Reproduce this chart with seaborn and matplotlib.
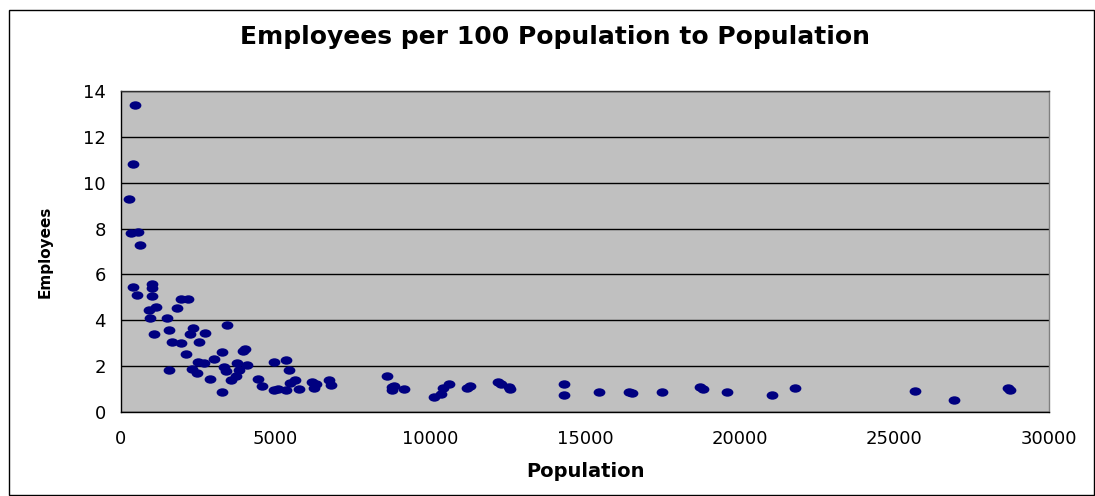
import numpy as np
import pandas as pd
import matplotlib
matplotlib.use("Agg")
import matplotlib.pyplot as plt
import seaborn as sns
from matplotlib.path import Path
from matplotlib.transforms import Affine2D
from matplotlib.patches import Rectangle

# values
population = [
    270, 320, 380, 400, 450, 520, 540, 630, 890, 950,
    1000, 1010, 1000, 1080, 1120, 1490, 1550, 1550, 1660, 1800,
    1930, 1950, 2110, 2180, 2220, 2280, 2340, 2450, 2480, 2520,
    2670, 2700, 2880, 3010, 3260, 3270, 3320, 3390, 3430, 3570,
    3730, 3760, 3800, 3930, 4000, 4060, 4420, 4550, 4930, 4950,
    5080, 5330, 5330, 5440, 5450, 5640, 5760, 6160, 6240, 6310,
    6710, 6780, 8610, 8770, 8830, 8760, 9150, 10120, 10360, 10420,
    10610, 11200, 11280, 12200, 12270, 12540, 12580, 14310, 14310, 15460,
    16430, 16520, 17480, 18720, 18820, 19600, 21050, 21780, 25660, 26930,
    28680, 28750,
]
employees = [
    9.3, 7.8, 10.8, 5.45, 13.4, 5.1, 7.85, 7.3, 4.47, 4.08,
    5.57, 5.4, 5.05, 3.4, 4.6, 4.08, 3.57, 1.85, 3.04, 4.53,
    3.0, 4.94, 2.54, 4.94, 3.4, 1.88, 3.68, 1.72, 2.2, 3.04,
    2.15, 3.45, 1.46, 2.32, 2.6, 0.89, 1.97, 1.78, 3.79, 1.41,
    1.59, 2.14, 1.82, 2.65, 2.76, 2.03, 1.46, 1.12, 0.98, 2.2,
    1.0, 2.26, 0.98, 1.85, 1.28, 1.4, 1.0, 1.3, 1.06, 1.24,
    1.4, 1.18, 1.57, 1.08, 1.12, 0.98, 1.0, 0.64, 0.8, 1.05,
    1.22, 1.04, 1.14, 1.3, 1.24, 1.08, 1.0, 1.22, 0.76, 0.87,
    0.88, 0.84, 0.87, 1.09, 0.99, 0.87, 0.76, 1.05, 0.93, 0.54,
    1.05, 0.96,
]
x_ticks = [0, 5000, 10000, 15000, 20000, 25000, 30000]
y_ticks = [0, 2, 4, 6, 8, 10, 12, 14]

df = pd.DataFrame({"Population": population, "Employees": employees})

sns.set_style("white")
# DejaVu is wide, which matches the stretched Excel text better
plt.rcParams["font.family"] = ["DejaVu Sans"]
plt.rcParams["text.color"] = "black"
plt.rcParams["axes.labelcolor"] = "black"
plt.rcParams["xtick.color"] = "black"
plt.rcParams["ytick.color"] = "black"

fig = plt.figure(figsize=(10.95, 4.96), dpi=100)
ax = fig.add_axes([121 / 1095, 1 - 412 / 496, (1049 - 121) / 1095, (412 - 91) / 496])
ax.set_facecolor("#C0C0C0")

# slightly wide ellipse like the Excel marker
ellipse = Affine2D().scale(1.4, 1.0).transform_path(Path.unit_circle())
sns.scatterplot(ax=ax, data=df, x="Population", y="Employees",
                marker=ellipse, s=72, color="#000080", edgecolor="#000080",
                linewidth=0, zorder=3)

ax.set_xlim(0, 30000)
ax.set_ylim(0, 14)
ax.set_xticks(x_ticks)
ax.set_yticks(y_ticks)
ax.yaxis.grid(True, color="black", linewidth=1)
ax.set_axisbelow(True)
ax.spines["right"].set_color("#808080")
ax.spines["top"].set_color("#303030")
for s in ["left", "bottom"]:
    ax.spines[s].set_color("black")
for s in ax.spines:
    ax.spines[s].set_linewidth(1)
ax.tick_params(axis="both", direction="out", length=5, width=1,
               labelsize=13, pad=6)
ax.tick_params(axis="x", pad=8)

ax.set_xlabel("Population", fontsize=14, fontweight="bold", labelpad=10)
ax.set_ylabel("Employees", fontsize=11, fontweight="bold", labelpad=22)
fig.text(555 / 1095, 1 - 37 / 496, "Employees per 100 Population to Population",
         ha="center", va="center", fontsize=18, fontweight="bold")

fig.patches.append(Rectangle((9 / 1095, 0.002), 1 - 10.5 / 1095, 1 - 10.5 / 496 - 0.002,
                             transform=fig.transFigure, fill=False,
                             edgecolor="black", linewidth=1))

fig.savefig("out.png", dpi=100)
